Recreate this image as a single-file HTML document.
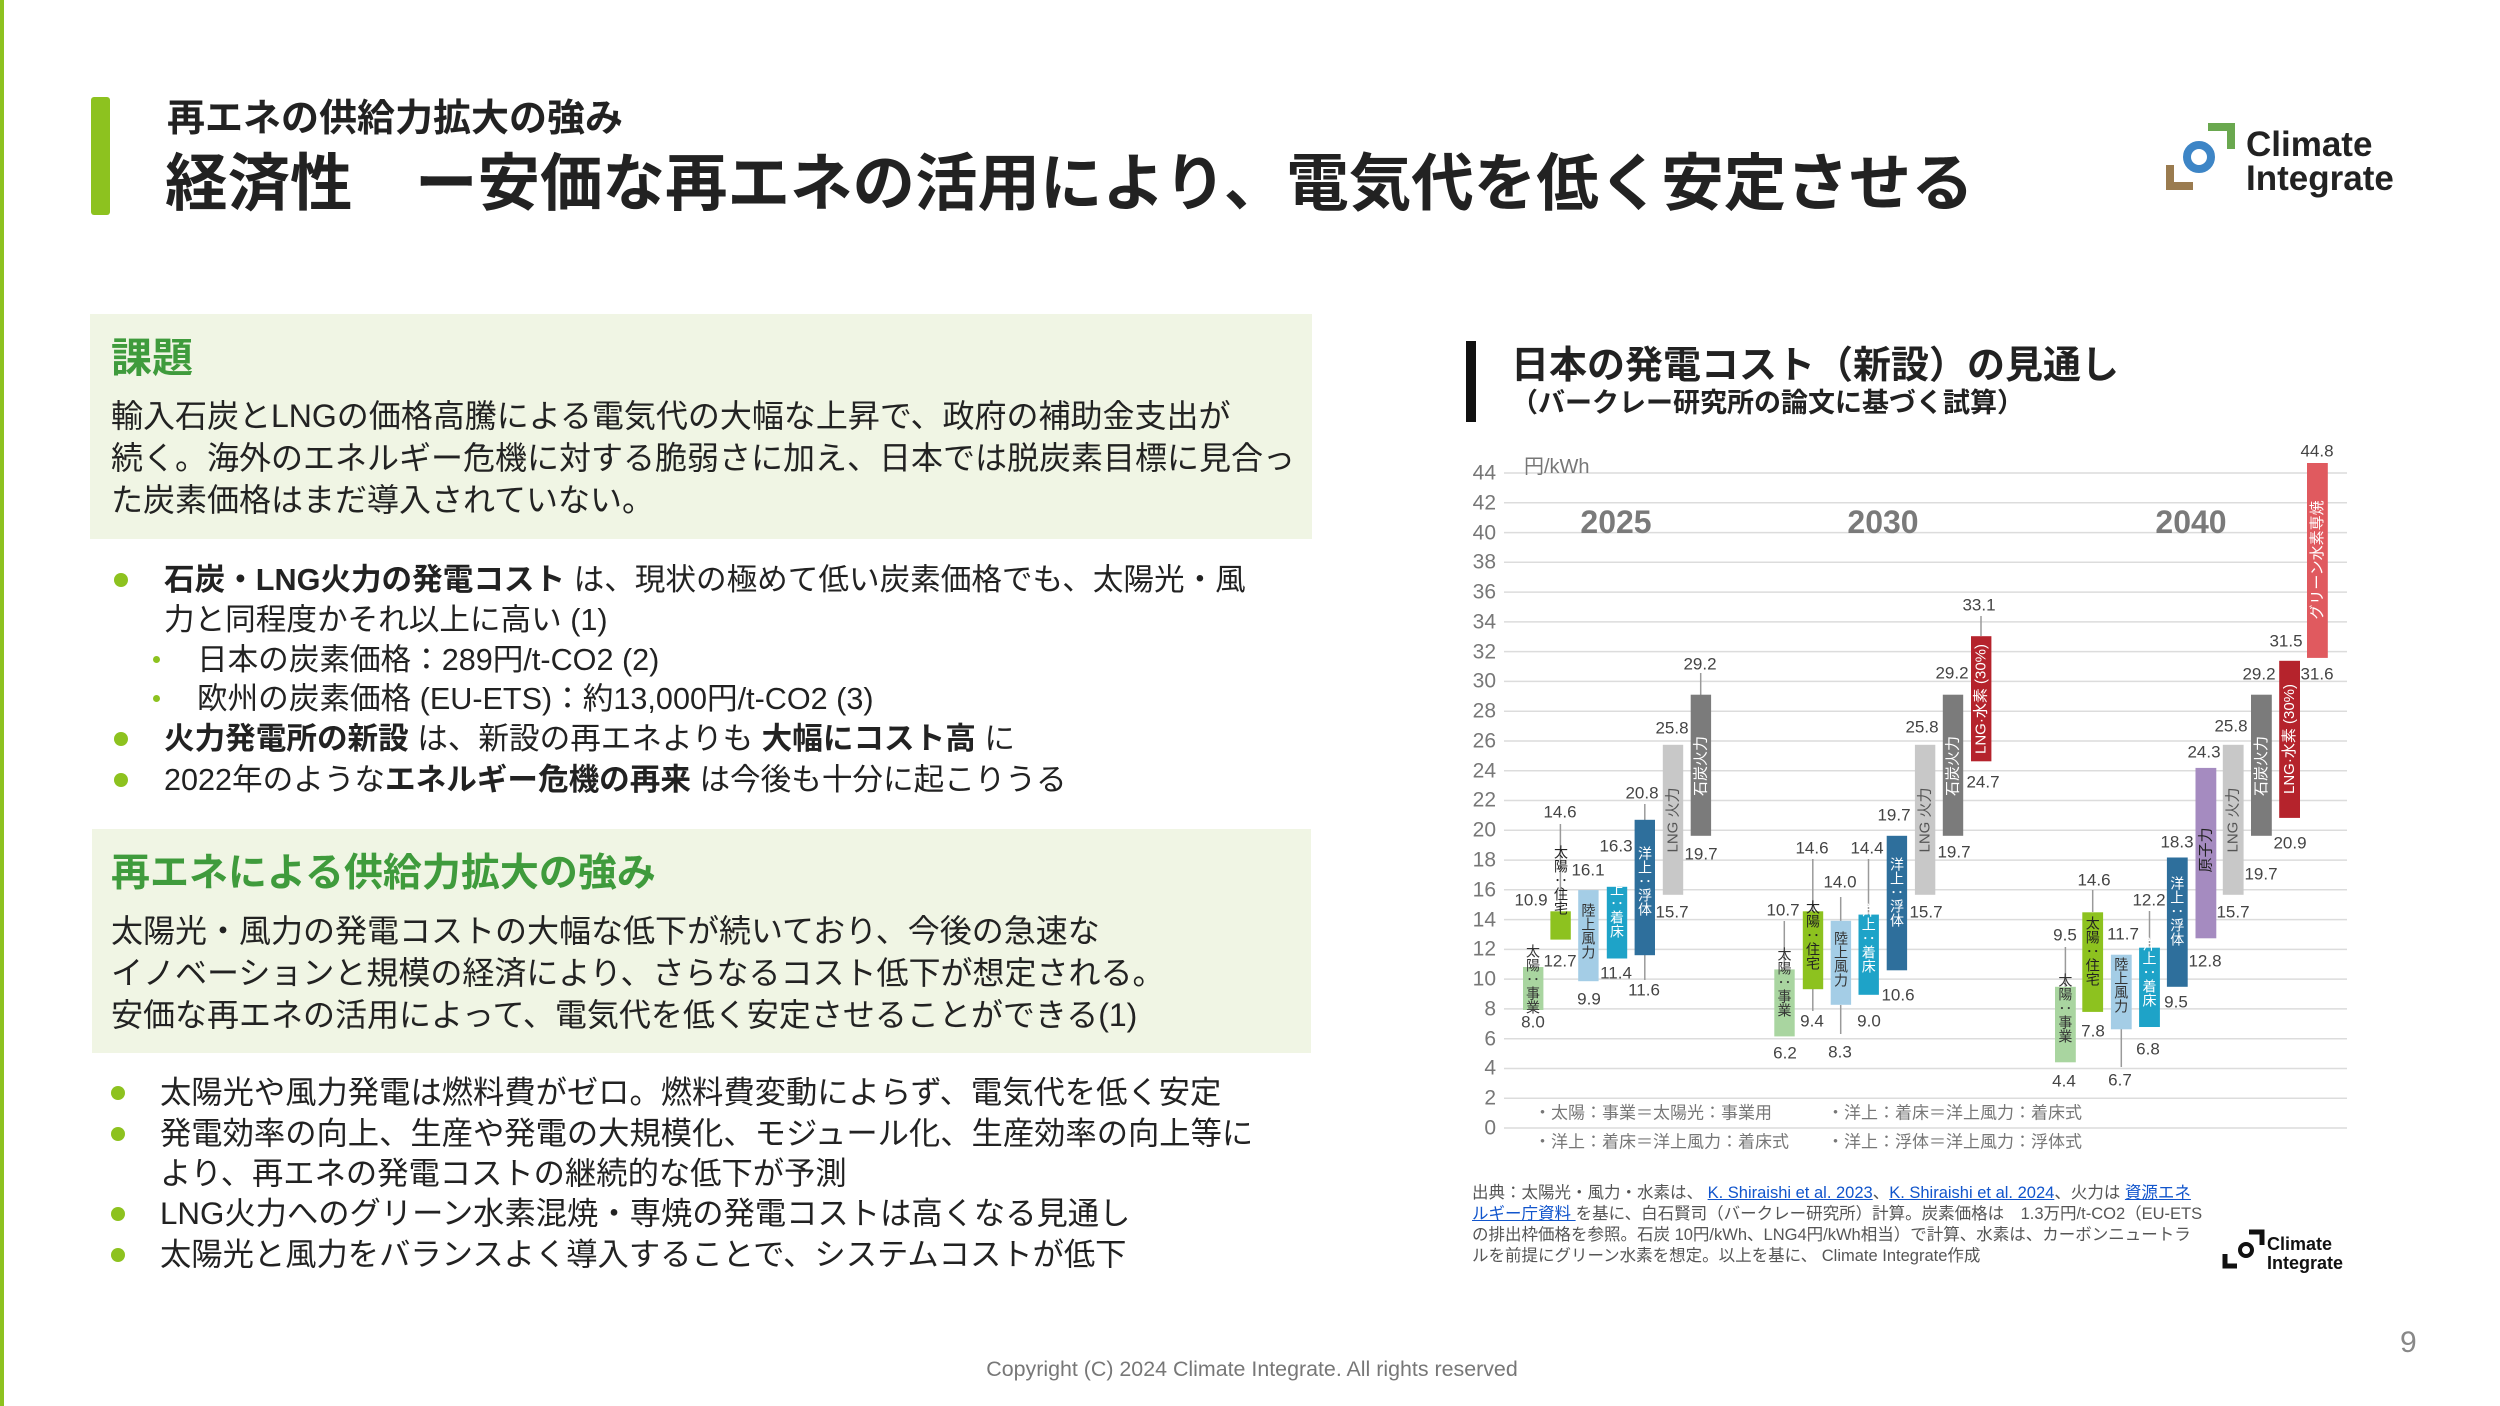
<!DOCTYPE html>
<html><head><meta charset="utf-8"><style>
*{margin:0;padding:0;box-sizing:border-box}
body{width:2500px;height:1406px;position:relative;background:#fff;overflow:hidden;font-family:"Liberation Sans","Noto Sans CJK JP",sans-serif;color:#222}
.a{position:absolute;white-space:nowrap;line-height:40px}
.box{position:absolute;background:#f0f5e4}
.dot{position:absolute;width:14px;height:14px;border-radius:50%;background:#8dc21f}
.sd{position:absolute;width:7px;height:7px;border-radius:50%;background:#8dc21f}
svg text{font-family:"Liberation Sans","Noto Sans CJK JP",sans-serif}
</style></head><body>
<div style="position:absolute;left:0;top:0;width:4px;height:1406px;background:#8dc21f"></div>
<div style="position:absolute;left:91px;top:97px;width:19px;height:118px;background:#8dc21f;border-radius:3px"></div>
<div class="a" style="left:167px;top:99px;font-size:38px;font-weight:bold;color:#222">再エネの供給力拡大の強み</div>
<div class="a" style="left:165px;top:150px;font-size:62.5px;line-height:68px;font-weight:bold;color:#222">経済性　ー安価な再エネの活用により、電気代を低く安定させる</div>

<div class="box" style="left:90px;top:314px;width:1222px;height:225px"></div>
<div class="a" style="left:111px;top:336px;font-size:41px;line-height:44px;font-weight:bold;color:#3f9b3c">課題</div>
<div class="a" style="left:111px;top:395px;font-size:32px;line-height:42px">輸入石炭とLNGの価格高騰による電気代の大幅な上昇で、政府の補助金支出が<br>続く。海外のエネルギー危機に対する脆弱さに加え、日本では脱炭素目標に見合っ<br>た炭素価格はまだ導入されていない。</div>

<div class="dot" style="left:114px;top:573px"></div>
<div class="a" style="left:164px;top:560px;font-size:30.6px"><b>石炭・LNG火力の発電コスト</b> は、現状の極めて低い炭素価格でも、太陽光・風</div>
<div class="a" style="left:164px;top:600px;font-size:30.6px">力と同程度かそれ以上に高い (1)</div>
<div class="sd" style="left:153px;top:656px"></div>
<div class="a" style="left:197px;top:640px;font-size:30.6px">日本の炭素価格：289円/t-CO2 (2)</div>
<div class="sd" style="left:153px;top:695px"></div>
<div class="a" style="left:197px;top:679px;font-size:30.6px">欧州の炭素価格 (EU-ETS)：約13,000円/t-CO2 (3)</div>
<div class="dot" style="left:114px;top:732px"></div>
<div class="a" style="left:164px;top:719px;font-size:30.6px"><b>火力発電所の新設</b> は、新設の再エネよりも <b>大幅にコスト高</b> に</div>
<div class="dot" style="left:114px;top:773px"></div>
<div class="a" style="left:164px;top:760px;font-size:30.6px">2022年のような<b>エネルギー危機の再来</b> は今後も十分に起こりうる</div>

<div class="box" style="left:92px;top:829px;width:1219px;height:224px"></div>
<div class="a" style="left:111px;top:852px;font-size:39px;line-height:44px;font-weight:bold;color:#3f9b3c">再エネによる供給力拡大の強み</div>
<div class="a" style="left:111px;top:910px;font-size:32px;line-height:42px">太陽光・風力の発電コストの大幅な低下が続いており、今後の急速な<br>イノベーションと規模の経済により、さらなるコスト低下が想定される。<br>安価な再エネの活用によって、電気代を低く安定させることができる(1)</div>

<div class="dot" style="left:111px;top:1086px"></div>
<div class="a" style="left:160px;top:1073px;font-size:31.3px">太陽光や風力発電は燃料費がゼロ。燃料費変動によらず、電気代を低く安定</div>
<div class="dot" style="left:111px;top:1127px"></div>
<div class="a" style="left:160px;top:1114px;font-size:31.3px">発電効率の向上、生産や発電の大規模化、モジュール化、生産効率の向上等に</div>
<div class="a" style="left:160px;top:1154px;font-size:31.3px">より、再エネの発電コストの継続的な低下が予測</div>
<div class="dot" style="left:111px;top:1207px"></div>
<div class="a" style="left:160px;top:1194px;font-size:31.3px">LNG火力へのグリーン水素混焼・専焼の発電コストは高くなる見通し</div>
<div class="dot" style="left:111px;top:1248px"></div>
<div class="a" style="left:160px;top:1235px;font-size:31.3px">太陽光と風力をバランスよく導入することで、システムコストが低下</div>

<div class="a" style="left:0;width:2504px;text-align:center;top:1349px;font-size:21.4px;color:#777">Copyright (C) 2024 Climate Integrate. All rights reserved</div>
<div class="a" style="left:2400px;top:1323px;font-size:30px;color:#888">9</div>

<div style="position:absolute;left:1466px;top:341px;width:10px;height:81px;background:#111"></div>
<div class="a" style="left:1511px;top:344px;font-size:38px;line-height:44px;font-weight:bold">日本の発電コスト（新設）の見通し</div>
<div class="a" style="left:1511px;top:388px;font-size:27px;line-height:30px;font-weight:bold;color:#222">（バークレー研究所の論文に基づく試算）</div>

<div class="a" style="left:1472px;top:1183px;font-size:16.5px;line-height:21px;color:#555">出典：太陽光・風力・水素は、 <span style="color:#1155cc;text-decoration:underline">K. Shiraishi et al. 2023</span>、<span style="color:#1155cc;text-decoration:underline">K. Shiraishi et al. 2024</span>、火力は <span style="color:#1155cc;text-decoration:underline">資源エネ</span><br><span style="color:#1155cc;text-decoration:underline">ルギー庁資料 </span>を基に、白石賢司（バークレー研究所）計算。炭素価格は　1.3万円/t-CO2（EU-ETS<br>の排出枠価格を参照。石炭 10円/kWh、LNG4円/kWh相当）で計算、水素は、カーボンニュートラ<br>ルを前提にグリーン水素を想定。以上を基に、 Climate Integrate作成</div>

<svg width="2500" height="1406" style="position:absolute;left:0;top:0">
<path d="M2208 127 H2231 V149" fill="none" stroke="#6aa84f" stroke-width="8"/>
<circle cx="2199" cy="157" r="12" fill="none" stroke="#3d85c6" stroke-width="8"/>
<path d="M2170 165 V186 H2193" fill="none" stroke="#9a7b4f" stroke-width="8"/>
<text x="2246" y="156" font-size="35" font-weight="bold" fill="#222">Climate</text>
<text x="2246" y="190" font-size="35" font-weight="bold" fill="#222">Integrate</text>
<path d="M2249 1232 H2262 V1245" fill="none" stroke="#111" stroke-width="5"/>
<circle cx="2246" cy="1250" r="6" fill="none" stroke="#111" stroke-width="4"/>
<path d="M2225 1254 V1266 H2237" fill="none" stroke="#111" stroke-width="5"/>
<text x="2267" y="1250" font-size="18" font-weight="bold" fill="#111">Climate</text>
<text x="2267" y="1269" font-size="18" font-weight="bold" fill="#111">Integrate</text>

<g stroke="#dcdcdc" stroke-width="1.5">
<line x1="1504" x2="2347" y1="1128" y2="1128"/><line x1="1504" x2="2347" y1="1098.2" y2="1098.2"/><line x1="1504" x2="2347" y1="1068.5" y2="1068.5"/><line x1="1504" x2="2347" y1="1038.7" y2="1038.7"/><line x1="1504" x2="2347" y1="1008.9" y2="1008.9"/><line x1="1504" x2="2347" y1="979.1" y2="979.1"/><line x1="1504" x2="2347" y1="949.4" y2="949.4"/><line x1="1504" x2="2347" y1="919.6" y2="919.6"/><line x1="1504" x2="2347" y1="889.8" y2="889.8"/><line x1="1504" x2="2347" y1="860.1" y2="860.1"/><line x1="1504" x2="2347" y1="830.3" y2="830.3"/><line x1="1504" x2="2347" y1="800.5" y2="800.5"/><line x1="1504" x2="2347" y1="770.7" y2="770.7"/><line x1="1504" x2="2347" y1="741" y2="741"/><line x1="1504" x2="2347" y1="711.2" y2="711.2"/><line x1="1504" x2="2347" y1="681.4" y2="681.4"/><line x1="1504" x2="2347" y1="651.6" y2="651.6"/><line x1="1504" x2="2347" y1="621.9" y2="621.9"/><line x1="1504" x2="2347" y1="592.1" y2="592.1"/><line x1="1504" x2="2347" y1="562.3" y2="562.3"/><line x1="1504" x2="2347" y1="532.6" y2="532.6"/><line x1="1504" x2="2347" y1="502.8" y2="502.8"/><line x1="1504" x2="2347" y1="473" y2="473"/>
</g>
<g font-size="21" fill="#777" text-anchor="end" dominant-baseline="central">
<text x="1496" y="1128">0</text><text x="1496" y="1098">2</text><text x="1496" y="1068">4</text><text x="1496" y="1039">6</text><text x="1496" y="1009">8</text><text x="1496" y="979">10</text><text x="1496" y="949">12</text><text x="1496" y="920">14</text><text x="1496" y="890">16</text><text x="1496" y="860">18</text><text x="1496" y="830">20</text><text x="1496" y="800">22</text><text x="1496" y="771">24</text><text x="1496" y="741">26</text><text x="1496" y="711">28</text><text x="1496" y="681">30</text><text x="1496" y="652">32</text><text x="1496" y="622">34</text><text x="1496" y="592">36</text><text x="1496" y="562">38</text><text x="1496" y="533">40</text><text x="1496" y="503">42</text><text x="1496" y="473">44</text>
</g>
<text x="1524" y="467" font-size="20" fill="#777" dominant-baseline="central">円/kWh</text>
<g font-size="32" font-weight="bold" fill="#7a7a7a" text-anchor="middle" dominant-baseline="central">
<text x="1616" y="522">2025</text><text x="1883" y="522">2030</text><text x="2191" y="522">2040</text>
</g>

<g stroke="#9a9a9a" stroke-width="1.5">
<line x1="1560.4" x2="1560.4" y1="824" y2="911"/>
<line x1="1644.8" x2="1644.8" y1="804" y2="820"/><line x1="1644.8" x2="1644.8" y1="955" y2="980"/>
<line x1="1700.7" x2="1700.7" y1="673" y2="695"/>
<line x1="1784.3" x2="1784.3" y1="921" y2="969"/>
<line x1="1812.8" x2="1812.8" y1="859" y2="911"/><line x1="1812.8" x2="1812.8" y1="989" y2="1011"/>
<line x1="1840.7" x2="1840.7" y1="897" y2="921"/><line x1="1840.7" x2="1840.7" y1="1005" y2="1034"/>
<line x1="1868.5" x2="1868.5" y1="859" y2="915"/>
<line x1="1981" x2="1981" y1="616" y2="636"/>
<line x1="2065.4" x2="2065.4" y1="947" y2="987"/>
<line x1="2092.7" x2="2092.7" y1="890" y2="912"/>
<line x1="2121.3" x2="2121.3" y1="1029" y2="1067"/>
<line x1="2149.5" x2="2149.5" y1="911" y2="948"/>
</g>

<g>
<rect x="1523" y="967" width="20.4" height="43" fill="#a9d5a0"/>
<rect x="1550.4" y="911.3" width="20.4" height="28.3" fill="#8dc21f"/>
<rect x="1578.2" y="890.1" width="20.4" height="91.1" fill="#a4cde6"/>
<rect x="1606.8" y="886.8" width="20.4" height="71.7" fill="#1ea3c8"/>
<rect x="1634.6" y="819.8" width="20.4" height="135.4" fill="#2e6f9c"/>
<rect x="1662.8" y="744.8" width="20.4" height="150" fill="#c8c8c8"/>
<rect x="1690.7" y="694.7" width="20.4" height="141.1" fill="#7b7b7b"/>

<rect x="1774.3" y="969.4" width="20.4" height="67" fill="#a9d5a0"/>
<rect x="1802.8" y="911.3" width="20.4" height="77.9" fill="#8dc21f"/>
<rect x="1830.7" y="920.8" width="20.4" height="84" fill="#a4cde6"/>
<rect x="1858.5" y="914.6" width="20.4" height="80.2" fill="#1ea3c8"/>
<rect x="1886.7" y="835.8" width="20.4" height="134.5" fill="#2e6f9c"/>
<rect x="1914.9" y="744.8" width="20.4" height="150" fill="#c8c8c8"/>
<rect x="1942.8" y="694.7" width="20.4" height="141.1" fill="#7b7b7b"/>
<rect x="1971" y="636.2" width="20.4" height="125.1" fill="#b5232c"/>

<rect x="2055" y="986.8" width="20.8" height="75.5" fill="#a9d5a0"/>
<rect x="2082.3" y="912.3" width="20.8" height="99.6" fill="#8dc21f"/>
<rect x="2110.9" y="954.7" width="20.8" height="74.6" fill="#a4cde6"/>
<rect x="2139.1" y="947.7" width="20.8" height="79.3" fill="#1ea3c8"/>
<rect x="2166.9" y="857.5" width="20.8" height="129.3" fill="#2e6f9c"/>
<rect x="2195.5" y="767.9" width="20.8" height="170.4" fill="#a58bc0"/>
<rect x="2222.8" y="744.8" width="20.8" height="150" fill="#c8c8c8"/>
<rect x="2251" y="694.7" width="20.8" height="141.1" fill="#7b7b7b"/>
<rect x="2279.2" y="660.8" width="20.8" height="157.1" fill="#b5232c"/>
<rect x="2307" y="463" width="20.8" height="194.9" fill="#e05a5f"/>
</g>

<g font-size="14" style="writing-mode:vertical-rl" writing-mode="tb">
<text x="1533" y="944" fill="#333">太陽：事業</text>
<text x="1561" y="845" fill="#222">太陽：住宅</text>
<text x="1588.4" y="903" fill="#333">陸上風力</text>
<text x="1617" y="868" fill="#fff">洋上：着床</text>
<text x="1645" y="846" fill="#fff">洋上：浮体</text>
<text x="1784.5" y="947" fill="#333">太陽：事業</text>
<text x="1813" y="900" fill="#222">太陽：住宅</text>
<text x="1841" y="931" fill="#333">陸上風力</text>
<text x="1868.7" y="903" fill="#fff">洋上：着床</text>
<text x="1897" y="857" fill="#fff">洋上：浮体</text>
<text x="2065.4" y="973" fill="#333">太陽：事業</text>
<text x="2092.7" y="916" fill="#222">太陽：住宅</text>
<text x="2121.3" y="957" fill="#333">陸上風力</text>
<text x="2149.5" y="937" fill="#fff">洋上：着床</text>
<text x="2177.3" y="876" fill="#fff">洋上：浮体</text>
</g>
<g font-size="15" text-anchor="middle" dominant-baseline="central">
<text transform="translate(1673,820) rotate(-90)" fill="#555">LNG 火力</text>
<text transform="translate(1701,766) rotate(-90)" fill="#fff">石炭火力</text>
<text transform="translate(1925,820) rotate(-90)" fill="#555">LNG 火力</text>
<text transform="translate(1953,766) rotate(-90)" fill="#fff">石炭火力</text>
<text transform="translate(1981.2,699) rotate(-90)" fill="#fff">LNG·水素 (30%)</text>
<text transform="translate(2206,850) rotate(-90)" fill="#222">原子力</text>
<text transform="translate(2233.2,820) rotate(-90)" fill="#555">LNG 火力</text>
<text transform="translate(2261.4,766) rotate(-90)" fill="#fff">石炭火力</text>
<text transform="translate(2289.6,739) rotate(-90)" fill="#fff">LNG·水素 (30%)</text>
<text transform="translate(2317.4,560) rotate(-90)" fill="#fff">グリーン水素専焼</text>
</g>

<g font-size="17" fill="#444" text-anchor="middle" dominant-baseline="central">
<text x="1531" y="900">10.9</text><text x="1533" y="1022">8.0</text>
<text x="1560" y="812">14.6</text><text x="1560" y="961">12.7</text>
<text x="1588" y="870">16.1</text><text x="1589" y="999">9.9</text>
<text x="1616" y="846">16.3</text><text x="1616" y="973">11.4</text>
<text x="1642" y="793">20.8</text><text x="1644" y="990">11.6</text>
<text x="1672" y="728">25.8</text><text x="1672" y="912">15.7</text>
<text x="1700" y="664">29.2</text><text x="1701" y="854">19.7</text>

<text x="1783" y="910">10.7</text><text x="1785" y="1053">6.2</text>
<text x="1812" y="848">14.6</text><text x="1812" y="1021">9.4</text>
<text x="1840" y="882">14.0</text><text x="1840" y="1052">8.3</text>
<text x="1867" y="848">14.4</text><text x="1869" y="1021">9.0</text>
<text x="1894" y="815">19.7</text><text x="1898" y="995">10.6</text>
<text x="1922" y="727">25.8</text><text x="1926" y="912">15.7</text>
<text x="1952" y="673">29.2</text><text x="1954" y="852">19.7</text>
<text x="1979" y="605">33.1</text><text x="1983" y="782">24.7</text>

<text x="2065" y="935">9.5</text><text x="2064" y="1081">4.4</text>
<text x="2094" y="880">14.6</text><text x="2093" y="1031">7.8</text>
<text x="2123" y="934">11.7</text><text x="2120" y="1080">6.7</text>
<text x="2149" y="900">12.2</text><text x="2148" y="1049">6.8</text>
<text x="2177" y="842">18.3</text><text x="2176" y="1002">9.5</text>
<text x="2204" y="752">24.3</text><text x="2205" y="961">12.8</text>
<text x="2231" y="726">25.8</text><text x="2233" y="912">15.7</text>
<text x="2259" y="674">29.2</text><text x="2261" y="874">19.7</text>
<text x="2286" y="641">31.5</text><text x="2290" y="843">20.9</text>
<text x="2317" y="451">44.8</text><text x="2317" y="674">31.6</text>
</g>

<g font-size="17" fill="#777" dominant-baseline="central">
<text x="1534" y="1113">・太陽：事業＝太陽光：事業用</text>
<text x="1534" y="1142">・洋上：着床＝洋上風力：着床式</text>
<text x="1827" y="1113">・洋上：着床＝洋上風力：着床式</text>
<text x="1827" y="1142">・洋上：浮体＝洋上風力：浮体式</text>
</g>
</svg>
</body></html>
